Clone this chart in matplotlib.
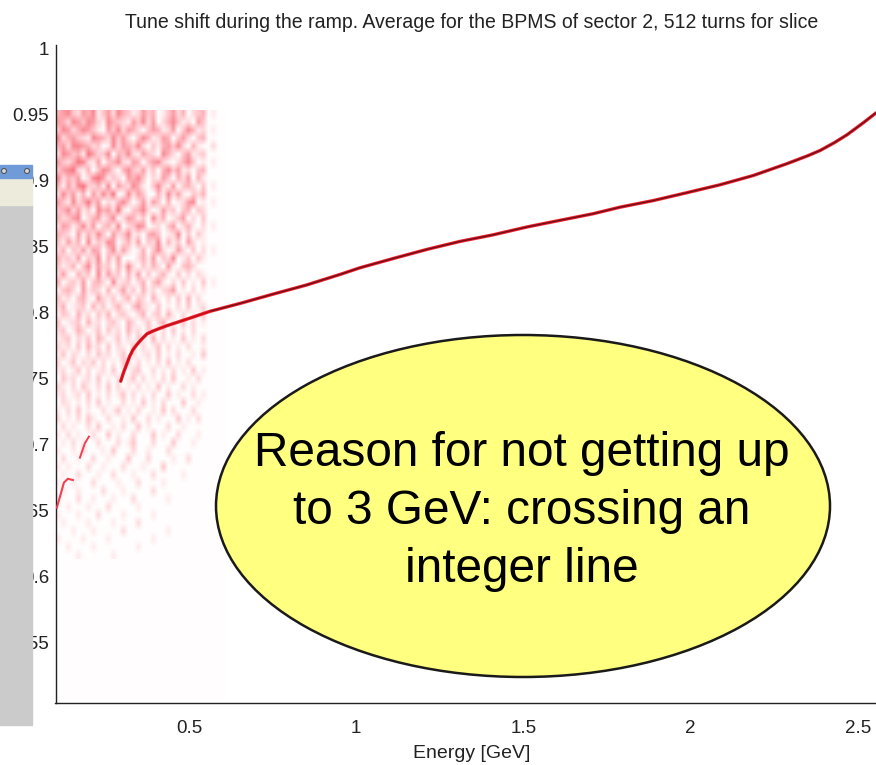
import numpy as np
import matplotlib
matplotlib.use('Agg')
import matplotlib.pyplot as plt
from matplotlib.colors import LinearSegmentedColormap
from matplotlib.patches import Ellipse, Rectangle
from matplotlib.transforms import IdentityTransform

plt.rcParams['font.family'] = ['Liberation Sans', 'DejaVu Sans']

# tune line
energy = [0.296, 0.305, 0.314, 0.323, 0.333, 0.345, 0.359, 0.375, 0.392, 0.412, 0.433, 0.493,
          0.563, 0.653, 0.751, 0.852, 0.952, 1.011, 1.110, 1.212, 1.310, 1.409, 1.511, 1.609,
          1.708, 1.789, 1.888, 1.989, 2.088, 2.187, 2.288, 2.350, 2.387, 2.430, 2.468, 2.516, 2.554]
tune = [0.748, 0.755, 0.761, 0.767, 0.772, 0.776, 0.780, 0.784, 0.786, 0.788, 0.790, 0.795,
        0.801, 0.807, 0.814, 0.821, 0.829, 0.834, 0.841, 0.848, 0.854, 0.859, 0.865, 0.870,
        0.875, 0.880, 0.885, 0.891, 0.897, 0.904, 0.913, 0.919, 0.923, 0.929, 0.935, 0.944, 0.9515]

# short faint pieces of the line at low energy
piece_a_energy = [0.105, 0.114, 0.126, 0.138, 0.153]
piece_a_tune = [0.652, 0.660, 0.671, 0.674, 0.673]
piece_b_energy = [0.174, 0.189, 0.201]
piece_b_tune = [0.690, 0.701, 0.706]

# red intensity of the spectrogram, 0-9, first row is tune 0.953, estimated cell by cell
noise_rows = [
    '4563254613526431253401352402340100',
    '5426536521643215362502463120530000',
    '3652465310536254203541250364120100',
    '6245321654263520364125403520340000',
    '4526654230162543620314536204100200',
    '2653417523604362153206420351230000',
    '5324762150346215403562102463010100',
    '3567214036520463251304635120340000',
    '6243502675132054630215304250410000',
    '4152673241605326410362150342030100',
    '2635140526370162530041625103240000',
    '5316247350214630251530401256010100',
    '3462513064527103462015230340320000',
    '4235602451360254130624013502030000',
    '2541362503416023650120350241020100',
    '4320514263052361204530126030310000',
    '3152406132650241503260413052010000',
    '2403251540361520140362015203020100',
    '4231503260415000241503260130310000',
    '3124036152304162031420510342000000',
    '2510423061523041503024103020210000',
    '4023150342061230240351020301030100',
    '1342051320402513041202350102010000',
    '3120341052130240320410203040200000',
    '2401230413024103521030102030120000',
    '1320412031402310240230410201030000',
    '3012304120231042013024010302010000',
    '2301420130312041203102030102000000',
    '1230213042013020310402010301020000',
    '2120304120302103020130201020010000',
    '1302102031201302012030102001030000',
    '2013021302010320201020301020000000',
    '1201302012030102300201020103010000',
    '0312012030102013020102030010200000',
    '2102031020302010201030100201000000',
    '1201203010201302010200301002010000',
    '0210102030100201030102000300100000',
    '1020301002013010200103020002000000',
    '2010203100200103002010003010200000',
    '0201002030010200301000200100000000',
    '1020100200301002000301002000100000',
    '0102010020002013000200030001000000',
    '1001020001030002001000200000000000',
    '0200100200100030002000010020000000',
    '1010002001000200010003000000000000',
    '0100200010020001000200000100000000',
    '1001000200001000200001000000000000',
    '0100100002000100000200000000000000',
    '1000200100010002000000100000000000',
    '0010001000200000100000000000000000',
    '1000100020000100000100000000000000',
    '0100001000010000200000000000000000',
    '0001000100000200000000100000000000',
    '1000010000100000000100000000000000',
    '0010000100000000100000000000000000',
    '0000100000010000000000000000000000',
]

x_ticks = [0.5, 1, 1.5, 2, 2.5]
y_ticks = [0.55, 0.6, 0.65, 0.7, 0.75, 0.8, 0.85, 0.9, 0.95, 1]
y_labels = ['0.55', '0.6', '0.65', '0.7', '0.75', '0.8', '0.85', '0.9', '0.95', '1']

W, H = 876, 765
fig = plt.figure(figsize=(W / 100, H / 100), dpi=100)
ax = fig.add_axes([55.5 / W, (H - 703) / H, (W - 55.5) / W, (703 - 45) / H])

# faint wash under the spectrogram
ax.axvspan(0.101, 0.609, ymax=0.9, color='#fffdfd', lw=0, zorder=0)

grid = np.array([[int(c) for c in row.ljust(34, '0')[:34]] for row in noise_rows], dtype=float)
cmap = LinearSegmentedColormap.from_list('reds', [(0, '#fffdfd'), (0.35, '#ffc0c6'), (1, '#f04452')])
ax.imshow(grid, cmap=cmap, vmin=0, vmax=9.5, aspect='auto', interpolation='bilinear',
          extent=[0.101, 0.609, 0.613, 0.953], zorder=1)
ax.set_xlim(0.101, 2.554)
ax.set_ylim(0.5039, 1.003)

ax.plot(energy, tune, color='#f01c28', lw=2.4, solid_capstyle='round', solid_joinstyle='round', zorder=3)
ax.plot(energy[12:], tune[12:], color='#6a1018', lw=1.0, solid_joinstyle='round', zorder=4)
ax.plot(energy[:13], tune[:13], color='#c01018', lw=1.0, solid_joinstyle='round', zorder=4)
ax.plot(piece_a_energy, piece_a_tune, color='#f04050', lw=1.5, zorder=3)
ax.plot(piece_b_energy, piece_b_tune, color='#f04050', lw=1.4, zorder=3)

ax.set_xticks(x_ticks)
ax.set_xticklabels([str(t) for t in x_ticks], fontsize=13.5, color='#222222')
ax.set_yticks(y_ticks)
ax.set_yticklabels(y_labels, fontsize=13.5, color='#222222')
ax.tick_params(axis='x', length=0, pad=12)
ax.tick_params(axis='y', length=0, pad=4.5)
for side in ['top', 'right']:
    ax.spines[side].set_visible(False)
for side in ['left', 'bottom']:
    ax.spines[side].set_color('#222222')
    ax.spines[side].set_linewidth(1.0)

fig.text(472 / W, 1 - 22 / H, 'Tune shift during the ramp. Average for the BPMS of sector 2, 512 turns for slice',
         fontsize=14.05, color='#222222', ha='center', va='center')
fig.text(472 / W, 1 - 754 / H, 'Energy [GeV]', fontsize=14, color='#222222', ha='center', va='center')

# window strip covering the left of the y labels
px = IdentityTransform()
fig.add_artist(Rectangle((0, H - 725), 32, 520, transform=px, color='#cbcbcb', zorder=5))
fig.add_artist(Rectangle((0, H - 205), 32, 27, transform=px, color='#ecebdc', zorder=5))
fig.add_artist(Rectangle((0, H - 178), 32, 13, transform=px, color='#6f9bd8', zorder=5))
for cx in [4, 27]:
    fig.add_artist(Ellipse((cx, H - 171), 5, 5, transform=px, facecolor='#d8d8d8', edgecolor='#555555', lw=0.8, zorder=6))

# callout
fig.add_artist(Ellipse((523, H - 506), 614, 342, transform=px, facecolor='#ffff80', edgecolor='#1a1a1a', lw=1.8, zorder=5))
for line, y in zip(['Reason for not getting up', 'to 3 GeV: crossing an', 'integer line'], [454, 511, 569]):
    fig.text(522 / W, 1 - y / H, line, fontsize=34.4, color='black', ha='center', va='center', zorder=6)

fig.savefig('out.png', dpi=100)
